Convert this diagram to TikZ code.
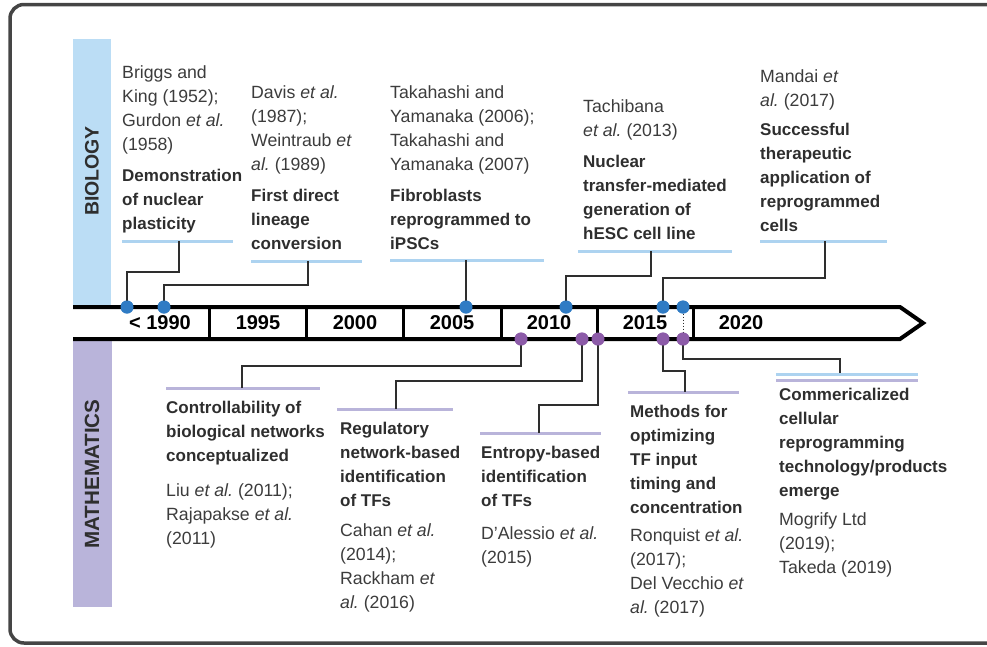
\documentclass[tikz,border=0pt]{standalone}
\usepackage{fontspec}
\setmainfont{Liberation Sans}
\usetikzlibrary{positioning}
\definecolor{biofill}{HTML}{BBDDF5}
\definecolor{mathfill}{HTML}{B9B4DA}
\definecolor{biodot}{HTML}{2F7BC4}
\definecolor{mathdot}{HTML}{8C5BA8}
\definecolor{inkgray}{HTML}{2E2E2E}
\definecolor{citegray}{HTML}{3C3C3C}
\definecolor{framegray}{HTML}{454545}
\newcommand{\reffont}{\fontsize{17.7}{24}\selectfont}
\newcommand{\headfont}{\fontsize{17}{24}\selectfont\bfseries}
\newcommand{\yearfont}{\fontsize{20}{24}\selectfont\bfseries}
\newcommand{\topstrut}{\rule{0pt}{16.8pt}}
\newcommand{\botstrut}{\rule[-7.2pt]{0pt}{7.2pt}}
\frenchspacing

\begin{document}
\begin{tikzpicture}[x=1pt,y=-1pt,
    cite/.style={anchor=north west,inner sep=0pt,align=left,font=\reffont,text=citegray,
      execute at begin node=\topstrut,execute at end node=\botstrut},
    headline/.style={cite,font=\headfont,text=inkgray},
    yearlabel/.style={font=\yearfont,inner sep=0pt,text=black},
    band/.style={rotate=90,text=inkgray,inner sep=0pt},
    bio dot/.style={circle,fill=biodot,minimum size=13pt,inner sep=0pt},
    math dot/.style={circle,fill=mathdot,minimum size=13pt,inner sep=0pt},
    link/.style={draw=inkgray,line width=2pt},
    bio line/.style={draw=biofill!90!biodot,line width=3pt},
    math line/.style={draw=mathfill,line width=3pt}]
    \useasboundingbox (0,0) rectangle (987,646);
    \clip (0,0) rectangle (987,646);
    \draw[framegray,line width=3.5pt,rounded corners=14pt] (10,4.5) rectangle (1100,643);

    \fill[biofill] (73,39) rectangle (111,305);
    \fill[mathfill] (73,341) rectangle (112,607);
    \node[band,font=\fontsize{19.5}{24}\selectfont\bfseries] (bio) at (92,171) {BIOLOGY};
    \node[band,font=\fontsize{20.6}{24}\selectfont\bfseries] (math) at (92,474) {MATHEMATICS};

    \node[cite] (b1) at (122,65.5) {Briggs and\\King (1952);\\Gurdon \textit{et al.}\\(1958)};
    \node[headline,below=11pt of b1.south west,anchor=north west] (b1h) {Demonstration\\of nuclear\\plasticity};
    \node[cite] (b2) at (251,85.5) {Davis \textit{et al.}\\(1987);\\Weintraub \textit{et}\\\textit{al.} (1989)};
    \node[headline,below=11pt of b2.south west,anchor=north west] (b2h) {First direct\\lineage\\conversion};
    \node[cite] (b3) at (390,85.5) {Takahashi and\\Yamanaka (2006);\\Takahashi and\\Yamanaka (2007)};
    \node[headline,below=11pt of b3.south west,anchor=north west] (b3h) {Fibroblasts\\reprogrammed to\\iPSCs};
    \node[cite] (b4) at (583,99.5) {Tachibana\\\textit{et al.} (2013)};
    \node[headline,below=11pt of b4.south west,anchor=north west] (b4h) {Nuclear\\transfer-mediated\\generation of\\hESC cell line};
    \node[cite] (b5) at (760,69.5) {Mandai \textit{et}\\\textit{al.} (2017)};
    \node[headline,below=9pt of b5.south west,anchor=north west] (b5h) {Successful\\therapeutic\\application of\\reprogrammed\\cells};

    \node[headline] (m1h) at (166,401) {Controllability of\\biological networks\\conceptualized};
    \node[cite,below=15pt of m1h.south west,anchor=north west] (m1) {Liu \textit{et al.} (2011);\\Rajapakse \textit{et al.}\\(2011)};
    \node[headline] (m2h) at (340,422) {Regulatory\\network-based\\identification\\of TFs};
    \node[cite,below=10pt of m2h.south west,anchor=north west] (m2) {Cahan \textit{et al.}\\(2014);\\Rackham \textit{et}\\\textit{al.} (2016)};
    \node[headline] (m3h) at (481,446) {Entropy-based\\identification\\of TFs};
    \node[cite,below=13pt of m3h.south west,anchor=north west] (m3) {D'Alessio \textit{et al.}\\(2015)};
    \node[headline] (m4h) at (630,405) {Methods for\\optimizing\\TF input\\timing and\\concentration};
    \node[cite,below=8pt of m4h.south west,anchor=north west] (m4) {Ronquist \textit{et al.}\\(2017);\\Del Vecchio \textit{et}\\\textit{al.} (2017)};
    \node[headline] (m5h) at (779,388) {Commericalized\\cellular\\reprogramming\\technology/products\\emerge};
    \node[cite,below=9pt of m5h.south west,anchor=north west] (m5) {Mogrify Ltd\\(2019);\\Takeda (2019)};

    \draw[bio line] (122,241) -- (233,241);
    \draw[bio line] (251,261) -- (362,261);
    \draw[bio line] (390,260) -- (544,260);
    \draw[bio line] (578,251) -- (732,251);
    \draw[bio line] (760,241) -- (887,241);
    \draw[math line] (166,388) -- (320,388);
    \draw[math line] (337,409) -- (453,409);
    \draw[math line] (480,433) -- (601,433);
    \draw[math line] (628,392) -- (739,392);
    \draw[bio line] (776,374) -- (918,374);
    \draw[math line] (776,380) -- (918,380);

    \node[bio dot] (bd1) at (127,307) {};
    \node[bio dot] (bd2) at (164,307) {};
    \node[bio dot] (bd3) at (466,307) {};
    \node[bio dot] (bd4) at (566,307) {};
    \node[bio dot] (bd5) at (663,307) {};
    \node[bio dot] (bd6) at (683,307) {};
    \node[math dot] (md1) at (521,339) {};
    \node[math dot] (md2) at (582,339) {};
    \node[math dot] (md3) at (598,339) {};
    \node[math dot] (md4) at (663,339) {};
    \node[math dot] (md5) at (683,339) {};

    \coordinate (bu1) at (179,241);
    \coordinate (bu2) at (308,261);
    \coordinate (bu3) at (466,260);
    \coordinate (bu4) at (651,251);
    \coordinate (bu5) at (825,241);
    \coordinate (mu1) at (242,388);
    \coordinate (mu2) at (396,409);
    \coordinate (mu3) at (539,433);
    \coordinate (mu4) at (685,392);
    \coordinate (mu5) at (840,373);

    \draw[link] (bd1.center) -- ++(0,-35) -| (bu1);
    \draw[link] (bd2.center) -- ++(0,-22) -| (bu2);
    \draw[link] (bd3.center) -- (bu3);
    \draw[link] (bd4.center) -- ++(0,-31) -| (bu4);
    \draw[link] (bd5.center) -- ++(0,-29) -| (bu5);
    \draw[link] (md1.center) -- ++(0,27) -| (mu1);
    \draw[link] (md2.center) -- ++(0,42) -| (mu2);
    \draw[link] (md3.center) -- ++(0,66) -| (mu3);
    \draw[link] (md4.center) -- ++(0,32) -| (mu4);
    \draw[link] (md5.center) -- ++(0,20) -| (mu5);

    \draw[line width=4pt,miter limit=10] (73,307) -- (900,307) -- (923,323) -- (900,339) -- (73,339);
    \foreach \x in {209,306,403,501,597,693}
      \draw[line width=3pt] (\x,307) -- (\x,339);
    \draw[inkgray,dotted,line width=1pt] (bd6) -- (md5);
    \foreach \x/\yr [count=\i] in {160/{< 1990},258/1995,355/2000,452/2005,549/2010,645/2015,741/2020}
      \node[yearlabel] (yr\i) at (\x,323) {\yr};

    \foreach \n in {bd1,bd2,bd3,bd4,bd5,bd6}
      \fill[biodot] (\n) circle (6.5pt);
    \foreach \n in {md1,md2,md3,md4,md5}
      \fill[mathdot] (\n) circle (6.5pt);
\end{tikzpicture}
\end{document}
